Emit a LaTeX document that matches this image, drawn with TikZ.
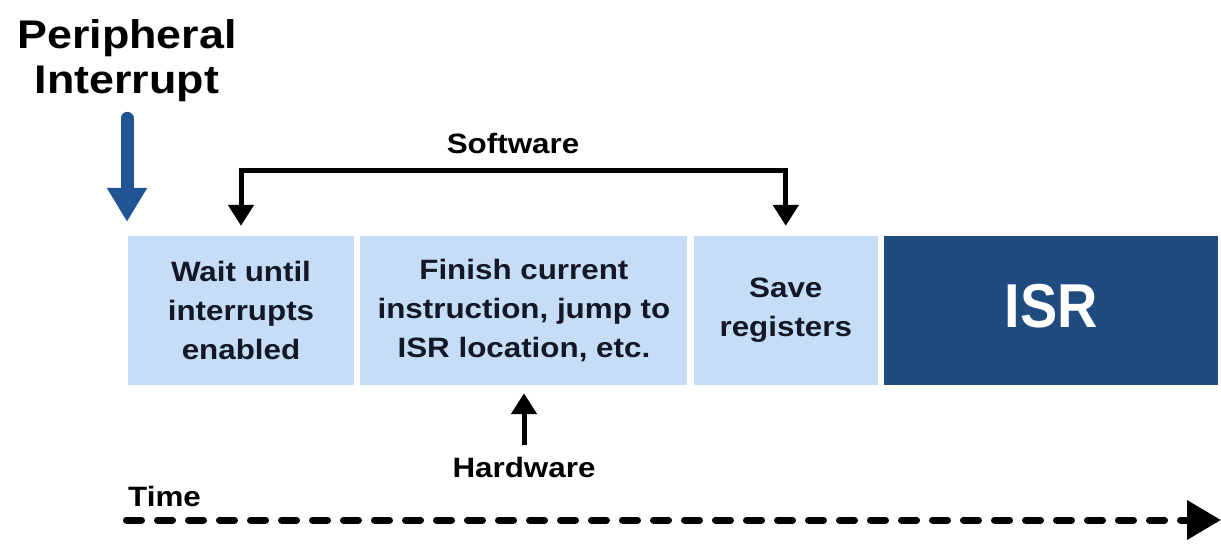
\documentclass[tikz,border=0pt]{standalone}
\usepackage{fontspec}
\newfontfamily\diagfont{Liberation Sans}[FakeStretch=1.12]
\newfontfamily\isrfont{Liberation Sans}[FakeStretch=0.9]
\usepackage{tikz}
\usetikzlibrary{arrows.meta,positioning,calc}
\definecolor{stepblue}{RGB}{197,221,246}
\definecolor{isrblue}{RGB}{31,75,128}
\definecolor{irqblue}{RGB}{33,84,146}
\definecolor{textnavy}{RGB}{20,24,38}
\tikzset{
  phase/.style={fill=stepblue, minimum height=149pt, inner sep=0pt, align=center, text=textnavy, font=\diagfont\bfseries\fontsize{28}{39}\selectfont},
  isrbox/.style={fill=isrblue, minimum height=149pt, inner sep=0pt, text depth=10pt, text=white, font=\isrfont\bfseries\fontsize{62}{70}\selectfont},
  lbl/.style={inner sep=0pt, font=\diagfont\bfseries\fontsize{28}{34}\selectfont},
  irqarr/.style={-{Triangle[width=38pt,length=34pt]}, irqblue, line width=13pt, line cap=round},
  blkarr/.style={-{Triangle[width=25pt,length=21pt]}, black, line width=5pt},
  timearr/.style={-{Triangle[width=38pt,length=34pt]}, black, line width=7pt, line cap=round, dash pattern=on 15pt off 16pt},
}
\begin{document}
\begin{tikzpicture}[x=1pt, y=-1pt, node distance=6pt]
  \useasboundingbox (0,0) rectangle (1221,547);
  \fill[white] (0,0) rectangle (1221,547);
  % the four phases along the time line
  \node[phase, minimum width=226pt] (wait) at (241,310.5) {Wait until\\interrupts\\enabled};
  \node[phase, minimum width=327pt, right=of wait] (finish) {Finish current\\instruction, jump to\\ISR location, etc.};
  \node[phase, minimum width=184pt, right=of finish] (save) {Save\\registers};
  \node[isrbox, minimum width=334pt, right=of save] (isr) {ISR};
  % labels
  \node[lbl, align=center, font=\diagfont\bfseries\fontsize{40}{45}\selectfont] (irq) at (127,61) {Peripheral\\Interrupt};
  \node[lbl] (sw) at (513,143) {Software};
  \node[lbl] (hw) at (524,467) {Hardware};
  \node[lbl, anchor=base west] (time) at (128,506) {Time};
  \coordinate (brtop) at (513,170);
  \coordinate (tstart) at (126.5,520);
  \coordinate (tend) at (1221,520);
  % connectors
  \draw[irqarr, shorten <=16pt, shorten >=14pt] (irq.south) -- (irq.south |- wait.north);
  \draw[blkarr, {Triangle[width=25pt,length=21pt]}-{Triangle[width=25pt,length=21pt]}, shorten <=10pt, shorten >=10pt] (wait.north) |- (brtop) -| (save.north);
  \draw[blkarr, shorten <=12pt, shorten >=8pt] (hw.north) -- (hw.north |- finish.south);
  \draw[timearr] (tstart) -- (tend);
\end{tikzpicture}
\end{document}
